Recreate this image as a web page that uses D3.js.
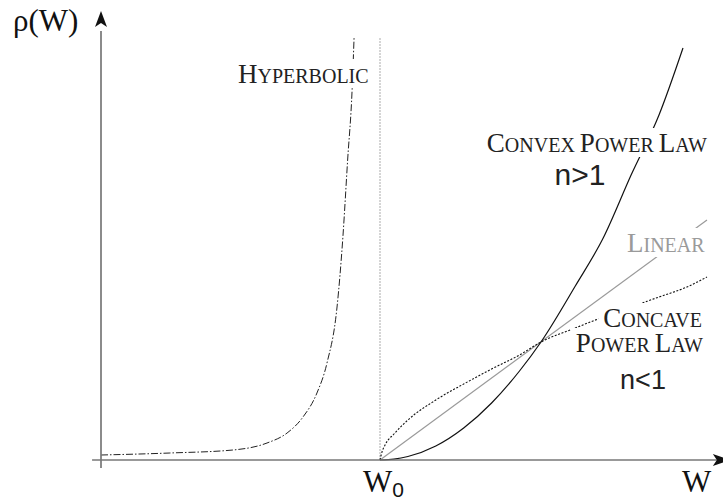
<!DOCTYPE html>
<html>
<head>
<meta charset="utf-8">
<script src="https://cdn.jsdelivr.net/npm/d3@7"></script>
<style>
  html, body { margin: 0; padding: 0; background: #fff; }
  svg { display: block; }
</style>
</head>
<body>
<svg id="chart" width="723" height="501"></svg>
<script>
// Critical resistance value on the W axis
const W0 = 1;

// Hyperbolic resistivity, diverging just before W0
const hyperbolicW   = [0, 0.247, 0.473, 0.595, 0.667, 0.724, 0.774, 0.810, 0.846, 0.867, 0.884, 0.900, 0.907];
const hyperbolicRho = [0.05, 0.07, 0.10, 0.17, 0.27, 0.43, 0.67, 0.97, 1.53, 2.23, 3.00, 3.70, 4.22];

// Convex power law (n > 1), starting at W0
const convexW   = [1.0, 1.05, 1.1, 1.2, 1.3, 1.4, 1.5, 1.577, 1.7, 1.8, 1.9, 2.0, 2.086];
const convexRho = [0, 0.009, 0.035, 0.14, 0.32, 0.57, 0.89, 1.18, 1.74, 2.22, 2.85, 3.45, 4.12];

// Concave power law (n < 1), starting at W0
const concaveW   = [1.0, 1.005, 1.02, 1.05, 1.1, 1.2, 1.3, 1.4, 1.5, 1.577, 1.7, 1.8, 1.9, 2.0, 2.1, 2.172];
const concaveRho = [0, 0.06, 0.16, 0.26, 0.40, 0.60, 0.76, 0.91, 1.05, 1.18, 1.32, 1.43, 1.53, 1.63, 1.73, 1.83];

// Linear law
const linearW   = [1.0, 2.172];
const linearRho = [0, 2.40];

// Axis extents (data units)
const axisW   = [-0.032, 2.193];
const axisRho = [-0.08, 4.33];

const svg = d3.select("#chart");

const x = d3.scaleLinear().domain([0, 1]).range([101, 380]);
const y = d3.scaleLinear().domain([0, 1]).range([460, 360]);

const serif = "'Liberation Serif', 'Times New Roman', serif";
const sans  = "'Liberation Sans', Arial, sans-serif";

const zip = (ws, rs) => ws.map((w, i) => [w, rs[i]]);
const line = d3.line().x(d => x(d[0])).y(d => y(d[1])).curve(d3.curveMonotoneX);

const curves = svg.append("g");

// vertical guide at W0
curves.append("line")
  .attr("x1", x(W0)).attr("x2", x(W0))
  .attr("y1", y(0)).attr("y2", y(4.22))
  .attr("stroke", "#c4c4c4").attr("stroke-width", 1.4)
  .attr("stroke-dasharray", "2,1");

curves.append("path")
  .attr("d", line(zip(hyperbolicW, hyperbolicRho)))
  .attr("fill", "none").attr("stroke", "#222").attr("stroke-width", 1)
  .attr("stroke-dasharray", "7,2,1.5,2");

curves.append("path")
  .attr("d", line(zip(linearW, linearRho)))
  .attr("fill", "none").attr("stroke", "#9a9a9a").attr("stroke-width", 1.2);

curves.append("path")
  .attr("d", line(zip(concaveW, concaveRho)))
  .attr("fill", "none").attr("stroke", "#111").attr("stroke-width", 1.1)
  .attr("stroke-dasharray", "2,1.6");

curves.append("path")
  .attr("d", line(zip(convexW, convexRho)))
  .attr("fill", "none").attr("stroke", "#111").attr("stroke-width", 1.2);

// Axes
const axes = svg.append("g");
axes.append("line")
  .attr("x1", x(0)).attr("x2", x(0))
  .attr("y1", y(axisRho[0])).attr("y2", y(axisRho[1]) + 4)
  .attr("stroke", "#777").attr("stroke-width", 1.7);
axes.append("line")
  .attr("x1", x(axisW[0])).attr("x2", x(axisW[1]) + 4)
  .attr("y1", y(0)).attr("y2", y(0))
  .attr("stroke", "#777").attr("stroke-width", 1.7);

// arrowheads
const ya = [x(0), y(axisRho[1])];
axes.append("path")
  .attr("d", `M${ya[0]},${ya[1] - 16} L${ya[0] + 6},${ya[1]} L${ya[0]},${ya[1] - 4} L${ya[0] - 6},${ya[1]} Z`)
  .attr("fill", "#111");
const xa = [x(axisW[1]), y(0)];
axes.append("path")
  .attr("d", `M${xa[0] + 17},${xa[1]} L${xa[0]},${xa[1] - 6} L${xa[0] + 4},${xa[1]} L${xa[0]},${xa[1] + 6} Z`)
  .attr("fill", "#111");

// Axis titles
svg.append("text")
  .attr("x", 13).attr("y", 31)
  .attr("font-family", serif).attr("font-size", 31).attr("fill", "#111")
  .text("ρ(W)");

const w0 = svg.append("text")
  .attr("x", x(W0) - 17).attr("y", 492)
  .attr("font-family", serif).attr("font-size", 31).attr("fill", "#111");
w0.append("tspan").text("W");
w0.append("tspan").attr("font-family", sans).attr("font-size", 21).attr("dy", 5).text("0");

svg.append("text")
  .attr("x", 682).attr("y", 492)
  .attr("font-family", serif).attr("font-size", 31).attr("fill", "#111")
  .text("W");

// Small-caps labels with a white backing that interrupts the curves
const labelBacks = svg.append("g");
const labelTexts = svg.append("g");
function smallCaps(parts, px, py, anchor, color) {
  const t = labelTexts.append("text")
    .attr("x", px).attr("y", py)
    .attr("text-anchor", anchor)
    .attr("font-family", serif).attr("fill", color);
  parts.forEach((word, i) => {
    if (i > 0) t.append("tspan").attr("font-size", 20).text(" ");
    t.append("tspan").attr("font-size", 27).text(word[0]);
    t.append("tspan").attr("font-size", 20).text(word.slice(1).toUpperCase());
  });
  const b = t.node().getBBox();
  labelBacks.append("rect").attr("fill", "#fff")
    .attr("x", b.x - 5).attr("y", py - 24)
    .attr("width", b.width + 10).attr("height", 29);
}

smallCaps(["Hyperbolic"], 238, 83, "start", "#222");
smallCaps(["Convex", "Power", "Law"], 707, 152, "end", "#222");
smallCaps(["Linear"], 627, 252, "start", "#9a9a9a");
smallCaps(["Concave"], 702, 327, "end", "#222");
smallCaps(["Power", "Law"], 703, 352, "end", "#222");

labelTexts.append("text")
  .attr("x", 580).attr("y", 185).attr("text-anchor", "middle")
  .attr("font-family", sans).attr("font-size", 30).attr("fill", "#222")
  .text("n>1");
labelTexts.append("text")
  .attr("x", 643).attr("y", 389).attr("text-anchor", "middle")
  .attr("font-family", sans).attr("font-size", 27).attr("fill", "#222")
  .text("n<1");
</script>
</body>
</html>
